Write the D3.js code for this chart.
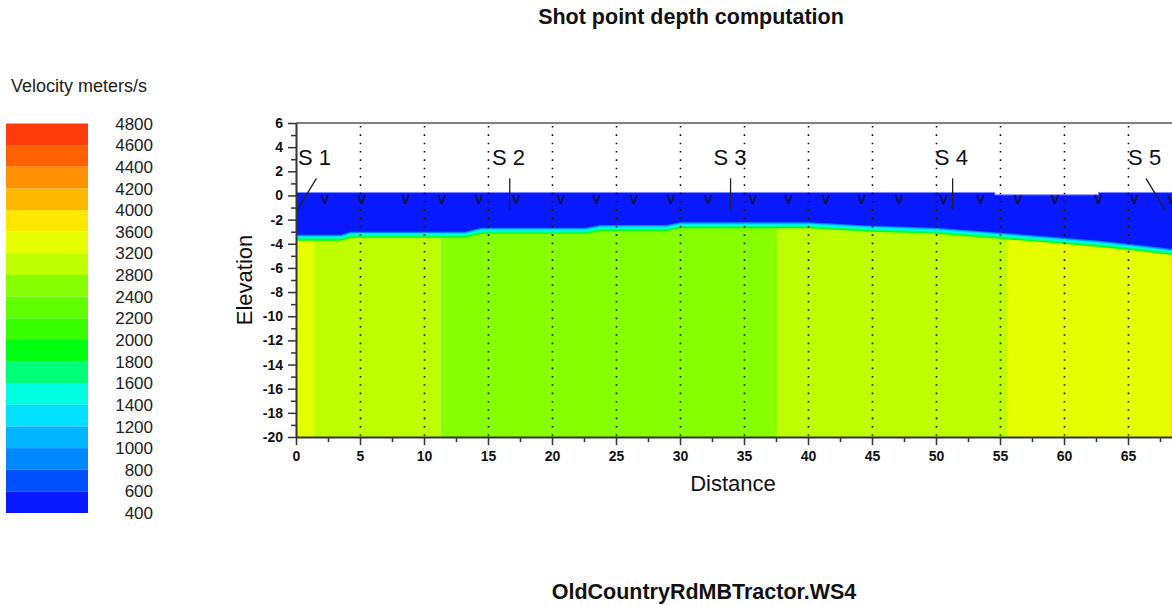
<!DOCTYPE html>
<html>
<head>
<meta charset="utf-8">
<script src="https://cdn.jsdelivr.net/npm/d3@7"></script>
<style>
  body { margin: 0; background: white; }
  svg { display: block; font-family: "Liberation Sans", Arial, sans-serif; }
</style>
</head>
<body>
<div id="chart"></div>
<script>
// ---- data ----
let legendLabels = [4800, 4600, 4400, 4200, 4000, 3600, 3200, 2800, 2400, 2200, 2000, 1800, 1600, 1400, 1200, 1000, 800, 600, 400]
let velThresholds = [600, 800, 1000, 1200, 1400, 1600, 1800, 2000, 2200, 2400, 2800, 3200, 3600, 4000, 4200, 4400, 4600]
let velColors = ["#0818ff", "#0050ff", "#0088ff", "#00b4ff", "#00e0ff", "#00ffe0", "#00ff78", "#00ff10", "#38ff00",
    "#60ff00", "#88ff00", "#beff00", "#e6ff00", "#ffe800", "#ffb800", "#ff9000", "#ff6000", "#ff3c0a"]

// surface (top of weathered layer)
let surfX = [0, 54.6, 54.6, 62.7, 62.7, 69]
let surfElev = [0.25, 0.25, 0.05, 0.05, 0.25, 0.25]
let topVel = 500

// refractor (top of the fast layer)
let refX = [0, 3.5, 4.3, 13.2, 14.5, 22.6, 23.8, 29, 30, 40, 45, 50, 55, 59, 63, 66, 69]
let refElev = [-3.75, -3.75, -3.5, -3.5, -3.18, -3.18, -2.95, -2.95, -2.72, -2.72, -3.0, -3.18, -3.58, -3.92, -4.28, -4.62, -5.0]

// gradient between the two layers, from the refractor upward
let transVel = [1900, 1700, 1500, 1300, 900]
let transStep = 0.1

// velocity columns below the refractor
let colEdges = [0, 1.4, 11.3, 37.6, 55.6, 68.2, 69]
let colVel = [3400, 3000, 2600, 3000, 3400, 3800]

// geophones
let geoX = [2.27, 5.13, 8.57, 11.4, 14.3, 17.2, 20.7, 23.5, 26.4, 29.3, 32.2, 35.7, 38.5, 41.4, 44.2, 47.1, 50.6, 53.5, 56.4, 59.3, 62.7, 65.5, 68.4]

// shots: label position, line top, line bottom
let shotNames = ["S 1", "S 2", "S 3", "S 4", "S 5"]
let shotLabelX = [1.44, 16.6, 33.9, 51.2, 66.3]
let shotTopX = [1.6, 16.7, 33.95, 51.3, 66.4]
let shotBotX = [0.1, 16.7, 33.95, 51.3, 67.9]
let shotTopElev = 1.42
let shotBotElev = -1.2

let gridX = d3.range(5, 66, 5)

// ---- layout ----
let W = 1172, H = 605
let svg = d3.select("#chart").append("svg").attr("width", W).attr("height", H)

let x = d3.scaleLinear().domain([0, 69]).range([296, 296 + 69 * 12.8])
let y = d3.scaleLinear().domain([-20, 6]).range([437, 123])
let vColor = d3.scaleThreshold().domain(velThresholds).range(velColors)

svg.append("defs").append("clipPath").attr("id", "plotClip")
    .append("rect")
    .attr("x", x(0)).attr("y", y(6))
    .attr("width", x(69) - x(0)).attr("height", y(-20) - y(6))

let plot = svg.append("g").attr("clip-path", "url(#plotClip)")

// columns
plot.append("g").selectAll("rect")
    .data(colVel)
    .join("rect")
    .attr("x", (d, i) => x(colEdges[i]))
    .attr("width", (d, i) => x(colEdges[i + 1]) - x(colEdges[i]))
    .attr("y", y(6))
    .attr("height", y(-20) - y(6))
    .attr("fill", d => vColor(d))

let refPts = refX.map((d, i) => [d, refElev[i]])
let areaAbove = off => d3.area()
    .x(d => x(d[0]))
    .y0(d => y(d[1] + off))
    .y1(y(6))

// transition bands
transVel.forEach((v, i) => {
    plot.append("path").datum(refPts)
        .attr("d", areaAbove(i * transStep))
        .attr("fill", vColor(v))
})
// slow top layer
plot.append("path").datum(refPts)
    .attr("d", areaAbove(transVel.length * transStep))
    .attr("fill", vColor(topVel))

// air above surface
let surfPts = surfX.map((d, i) => [d, surfElev[i]])
plot.append("path").datum(surfPts)
    .attr("d", d3.area().x(d => x(d[0])).y0(d => y(d[1])).y1(y(6)))
    .attr("fill", "white")
plot.append("path").datum(surfPts)
    .attr("d", d3.line().x(d => x(d[0])).y(d => y(d[1])))
    .attr("fill", "none").attr("stroke", "#7a86ff").attr("stroke-width", 1)

// dotted grid
plot.append("g").selectAll("line")
    .data(gridX)
    .join("line")
    .attr("x1", d => x(d) + 0.5).attr("x2", d => x(d) + 0.5)
    .attr("y1", y(6) + 3).attr("y2", y(-20))
    .attr("stroke", "#111").attr("stroke-width", 1.6)
    .attr("stroke-dasharray", "1.6 6.73")

// geophones
plot.append("g").selectAll("text")
    .data(geoX)
    .join("text")
    .attr("x", d => x(d))
    .attr("y", 203.5)
    .attr("text-anchor", "middle")
    .style("font-size", "16px")
    .attr("fill", "#111")
    .text("v")

// shots
let shots = plot.append("g").selectAll("g")
    .data(shotNames)
    .join("g")
shots.append("line")
    .attr("x1", (d, i) => x(shotTopX[i])).attr("y1", y(shotTopElev))
    .attr("x2", (d, i) => x(shotBotX[i])).attr("y2", y(shotBotElev))
    .attr("stroke", "#222").attr("stroke-width", 1.3)
shots.append("text")
    .attr("x", (d, i) => x(shotLabelX[i]))
    .attr("y", 164.5)
    .attr("text-anchor", "middle")
    .style("font-size", "22px")
    .attr("fill", "#111")
    .text(d => d)

// top frame
svg.append("line")
    .attr("x1", x(0)).attr("x2", W)
    .attr("y1", y(6)).attr("y2", y(6))
    .attr("stroke", "#555").attr("stroke-width", 1.5)

// axes
let yAxis = svg.append("g").attr("transform", `translate(${x(0)},0)`)
    .call(d3.axisLeft(y).tickValues(d3.range(-20, 7, 2)).tickSize(8).tickSizeOuter(0).tickPadding(5).tickFormat(d => String(d)))
yAxis.append("g")
    .call(d3.axisLeft(y).tickValues(d3.range(-19, 6, 2)).tickSize(5).tickSizeOuter(0).tickFormat(""))
    .select(".domain").remove()

let xAxis = svg.append("g").attr("transform", `translate(0,${y(-20)})`)
    .call(d3.axisBottom(x).tickValues(d3.range(0, 66, 5)).tickSize(8).tickSizeOuter(0).tickPadding(6.5).tickFormat(d => String(d)))
xAxis.append("g")
    .call(d3.axisBottom(x).tickValues(d3.range(2.5, 69, 5)).tickSize(5).tickSizeOuter(0).tickFormat(""))
    .select(".domain").remove()

svg.selectAll(".domain").attr("stroke", "#333").attr("stroke-width", 2)
svg.selectAll(".tick line").attr("stroke", "#333").attr("stroke-width", 1.5)
svg.selectAll(".tick text")
    .style("font-family", "'Liberation Sans', Arial, sans-serif")
    .style("font-size", "14px").style("font-weight", "bold").attr("fill", "#111")

// axis titles
svg.append("text")
    .attr("x", 733).attr("y", 491)
    .attr("text-anchor", "middle")
    .style("font-size", "22px").attr("fill", "#111")
    .text("Distance")
svg.append("text")
    .attr("transform", "translate(252,280) rotate(-90)")
    .attr("text-anchor", "middle")
    .style("font-size", "22px").attr("fill", "#111")
    .text("Elevation")

// titles
svg.append("text")
    .attr("x", 691).attr("y", 24)
    .attr("text-anchor", "middle")
    .style("font-size", "21.5px").style("font-weight", "bold").attr("fill", "#111")
    .text("Shot point depth computation")
svg.append("text")
    .attr("x", 704).attr("y", 599)
    .attr("text-anchor", "middle")
    .style("font-size", "21.5px").style("font-weight", "bold").attr("fill", "#111")
    .text("OldCountryRdMBTractor.WS4")

// legend
svg.append("text")
    .attr("x", 11).attr("y", 92)
    .style("font-size", "18px").attr("fill", "#222")
    .text("Velocity meters/s")

let ly = d3.scaleLinear().domain([0, legendLabels.length - 1]).range([123.5, 513])
svg.append("g").selectAll("rect")
    .data(legendLabels.slice(1))
    .join("rect")
    .attr("x", 6).attr("width", 82)
    .attr("y", (d, i) => ly(i))
    .attr("height", (d, i) => ly(i + 1) - ly(i))
    .attr("fill", (d, i) => vColor((legendLabels[i] + legendLabels[i + 1]) / 2))
svg.append("g").selectAll("text")
    .data(legendLabels)
    .join("text")
    .attr("x", 153)
    .attr("y", (d, i) => ly(i))
    .attr("dy", "0.36em")
    .attr("text-anchor", "end")
    .style("font-size", "17px").attr("fill", "#222")
    .text(d => d)
</script>
</body>
</html>
